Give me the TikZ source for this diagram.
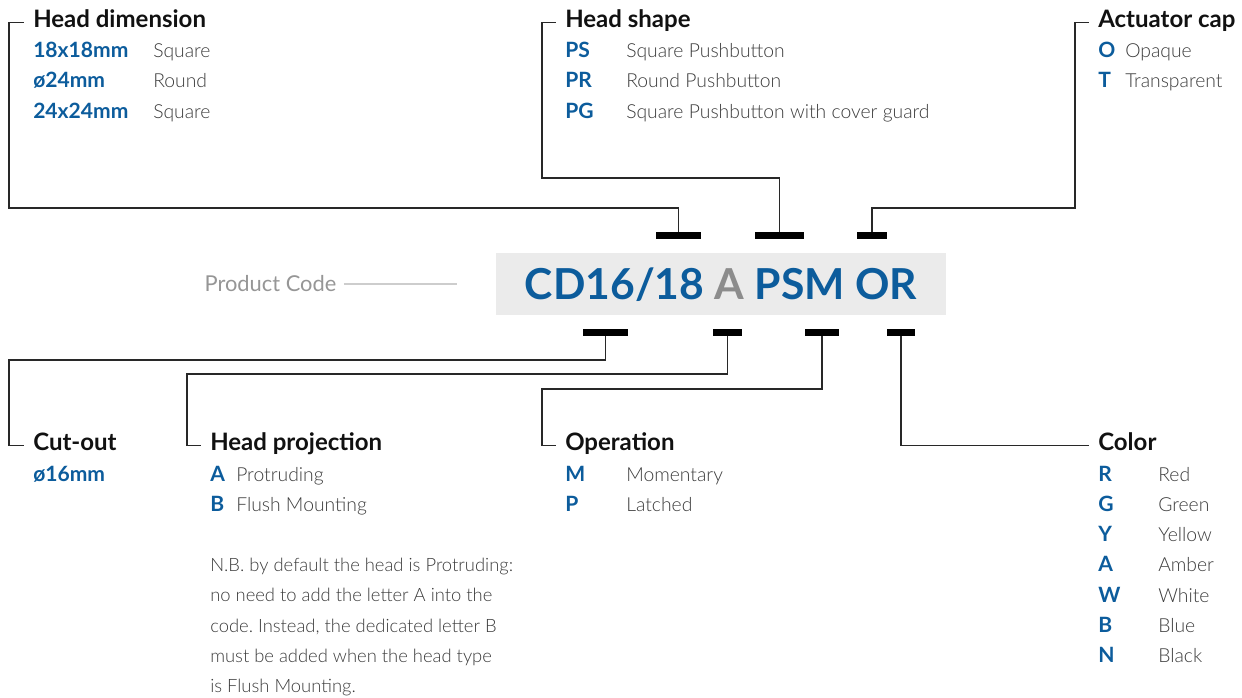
\documentclass[tikz,border=0pt]{standalone}
\usepackage{fontspec}
\setmainfont{Lato}
\newfontfamily\lightfont{Lato Light}
\frenchspacing
\definecolor{codeblue}{RGB}{12,92,156}
\definecolor{codegray}{RGB}{140,140,140}
\definecolor{boxgray}{RGB}{235,235,235}
\definecolor{headink}{RGB}{17,17,17}
\definecolor{descink}{RGB}{60,60,60}
\definecolor{wireink}{RGB}{40,40,40}
\definecolor{labelgray}{RGB}{150,150,150}
\definecolor{lablinegray}{RGB}{205,205,205}
\begin{document}
\begin{tikzpicture}[x=0.75pt,y=-0.75pt,
  head/.style={anchor=base west,inner sep=0pt,font=\fontsize{18}{20}\selectfont\bfseries,text=headink},
  key/.style={anchor=base west,inner sep=0pt,font=\fontsize{15.8}{18}\selectfont\bfseries,text=codeblue},
  val/.style={anchor=base west,inner sep=0pt,font=\fontsize{14.5}{17}\selectfont\lightfont,text=descink},
  note/.style={anchor=base west,inner sep=0pt,font=\fontsize{13.8}{16}\selectfont\lightfont,text=descink},
  tick/.style={fill=black,inner sep=0pt,minimum height=5.25pt},
  wire/.style={draw=wireink,line width=1.1pt}]
\useasboundingbox (0,0) rectangle (1242,697);
% product code
\node[fill=boxgray,inner sep=0pt,minimum width=337.5pt,minimum height=46.5pt] (codebox) at (721,284) {};
\node[anchor=base,inner sep=0pt,font=\fontsize{32}{36}\selectfont\bfseries] (code) at (721,299)
  {\textcolor{codeblue}{CD16/18} \textcolor{codegray}{A} \textcolor{codeblue}{PSM OR}};
\node[anchor=west,inner xsep=5.5pt,font=\fontsize{16.4}{19}\selectfont,text=labelgray] (plabel) at (197,284) {Product Code};
\coordinate (pend) at (457,284);
\draw[draw=lablinegray,line width=1.4pt] (plabel.east) -- (pend);
% ticks above and below the code
\node[tick,minimum width=33.75pt] (tdim) at (678.5,235.5) {};
\node[tick,minimum width=36.75pt] (tshp) at (779.5,235.5) {};
\node[tick,minimum width=22.5pt] (tcap) at (872,235.5) {};
\node[tick,minimum width=33.75pt] (tcut) at (605.5,332) {};
\node[tick,minimum width=21.75pt] (tprj) at (727.5,332) {};
\node[tick,minimum width=25.5pt] (top) at (822,332) {};
\node[tick,minimum width=21pt] (tcol) at (901,332) {};
% head dimension
\node[head] (hdim) at (33,27) {Head dimension};
\node[key] (dimA) at (33,57) {18x18mm}; \node[val] (dimAv) at (153,57) {Square};
\node[key] (dimB) at (33,87) {ø24mm}; \node[val] (dimBv) at (153,87) {Round};
\node[key] (dimC) at (33,118) {24x24mm}; \node[val] (dimCv) at (153,118) {Square};
% head shape
\node[head] (hshp) at (565,27) {Head shape};
\node[key] (shpA) at (565,57) {PS}; \node[val] (shpAv) at (626,57) {Square Pushbutton};
\node[key] (shpB) at (565,87) {PR}; \node[val] (shpBv) at (626,87) {Round Pushbutton};
\node[key] (shpC) at (565,118) {PG}; \node[val] (shpCv) at (626,118) {Square Pushbutton with cover guard};
% actuator cap
\node[head] (hcap) at (1098,27) {Actuator cap};
\node[key] (capA) at (1098,57) {O}; \node[val] (capAv) at (1125,57) {Opaque};
\node[key] (capB) at (1098,87) {T}; \node[val] (capBv) at (1125,87) {Transparent};
% cut-out
\node[head] (hcut) at (33,450) {Cut-out};
\node[key] (cutA) at (33,481) {ø16mm};
% head projection
\node[head] (hprj) at (210,450) {Head projection};
\node[key] (prjA) at (210,481) {A}; \node[val] (prjAv) at (236,481) {Protruding};
\node[key] (prjB) at (210,511) {B}; \node[val] (prjBv) at (236,511) {Flush Mounting};
\node[note] (nb1) at (210,571) {N.B. by default the head is Protruding:};
\node[note] (nb2) at (210,601) {no need to add the letter A into the};
\node[note] (nb3) at (210,632) {code. Instead, the dedicated letter B};
\node[note] (nb4) at (210,662) {must be added when the head type};
\node[note] (nb5) at (210,692) {is Flush Mounting.};
% operation
\node[head] (hop) at (565,450) {Operation};
\node[key] (opA) at (565,481) {M}; \node[val] (opAv) at (626,481) {Momentary};
\node[key] (opB) at (565,511) {P}; \node[val] (opBv) at (626,511) {Latched};
% color
\node[head] (hcol) at (1098,450) {Color};
\node[key] (colA) at (1098,481) {R}; \node[val] (colAv) at (1158,481) {Red};
\node[key] (colB) at (1098,511) {G}; \node[val] (colBv) at (1158,511) {Green};
\node[key] (colC) at (1098,541) {Y}; \node[val] (colCv) at (1158,541) {Yellow};
\node[key] (colD) at (1098,571) {A}; \node[val] (colDv) at (1158,571) {Amber};
\node[key] (colE) at (1098,602) {W}; \node[val] (colEv) at (1158,602) {White};
\node[key] (colF) at (1098,632) {B}; \node[val] (colFv) at (1158,632) {Blue};
\node[key] (colG) at (1098,662) {N}; \node[val] (colGv) at (1158,662) {Black};
% connectors
\coordinate (dimturn) at (9,208);
\coordinate (shpturn) at (542,178);
\coordinate (capturn) at (1075,208);
\coordinate (cutturn) at (9,360);
\coordinate (prjturn) at (187,374);
\coordinate (opturn) at (542,389);
\draw[wire] (tdim.north) |- (dimturn) |- ([xshift=-6.5pt,yshift=3.5pt]hdim.base west);
\draw[wire] (tshp.north) |- (shpturn) |- ([xshift=-6.5pt,yshift=3.5pt]hshp.base west);
\draw[wire] (tcap.north) |- (capturn) |- ([xshift=-6.5pt,yshift=3.5pt]hcap.base west);
\draw[wire] (tcut.south) |- (cutturn) |- ([xshift=-6.5pt,yshift=3.5pt]hcut.base west);
\draw[wire] (tprj.south) |- (prjturn) |- ([xshift=-6.5pt,yshift=3.5pt]hprj.base west);
\draw[wire] (top.south) |- (opturn) |- ([xshift=-6.5pt,yshift=3.5pt]hop.base west);
\draw[wire] (tcol.south) |- ([xshift=-6.5pt,yshift=3.5pt]hcol.base west);
\end{tikzpicture}
\end{document}
